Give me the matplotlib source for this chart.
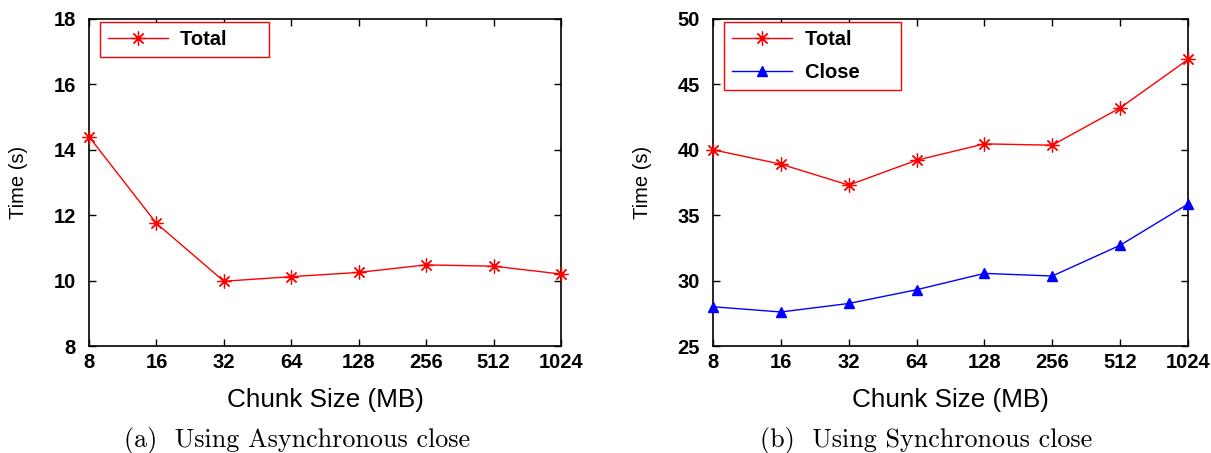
import matplotlib.pyplot as plt

chunk_labels = ["8", "16", "32", "64", "128", "256", "512", "1024"]

async_total = [14.4, 11.75, 9.98, 10.12, 10.25, 10.48, 10.44, 10.2]

sync_total = [40.0, 38.9, 37.3, 39.2, 40.45, 40.35, 43.2, 46.9]
sync_close = [28.0, 27.6, 28.25, 29.3, 30.55, 30.35, 32.7, 35.85]

plt.rcParams['font.family'] = ['Liberation Sans', 'DejaVu Sans']

fig = plt.figure(figsize=(12.11, 4.53), dpi=100)
ax1 = fig.add_axes([0.0735, 0.2362, 0.3898, 0.722])
ax2 = fig.add_axes([0.5888, 0.2362, 0.3922, 0.722])

x = list(range(len(chunk_labels)))
star = (8, 2, 0)


def style_axes(ax, ylim, yticks):
    ax.set_xlim(0, len(chunk_labels) - 1)
    ax.set_ylim(*ylim)
    ax.set_yticks(yticks)
    ax.set_xticks(x)
    ax.set_xticklabels(chunk_labels)
    ax.tick_params(direction='in', top=True, right=True, length=5, width=1,
                   labelsize=14.5)
    ax.tick_params(axis='x', pad=5)
    ax.tick_params(axis='y', pad=9.5)
    for lab in ax.get_xticklabels() + ax.get_yticklabels():
        lab.set_fontweight('bold')
    for sp in ax.spines.values():
        sp.set_linewidth(1.2)
    ax.set_xlabel("Chunk Size (MB)", fontsize=18.8)
    ax.xaxis.label.set_va('center')
    ax.xaxis.set_label_coords(0.5, -0.165)
    ax.set_ylabel("Time (s)", fontsize=14.5)
    ax.yaxis.label.set_va('center')
    ax.yaxis.set_label_coords(-71 / (ax.get_position().width * 1211), 0.5)


ax1.plot(x, async_total, color='red', lw=1, marker=star, ms=10, mew=0.9,
         label='Total      ', clip_on=False, zorder=3)
style_axes(ax1, (8, 18), [8, 10, 12, 14, 16, 18])

ax2.plot(x, sync_total, color='red', lw=1, marker=star, ms=10, mew=0.9,
         label='Total      ', clip_on=False, zorder=3)
ax2.plot(x, sync_close, color='blue', lw=1, marker='^', ms=7,
         label='Close      ', clip_on=False, zorder=3)
style_axes(ax2, (25, 50), [25, 30, 35, 40, 45, 50])

for ax in (ax1, ax2):
    leg = ax.legend(loc='upper left', bbox_to_anchor=(0.023, 0.99), fancybox=False,
                    edgecolor='red', framealpha=1, handlelength=3.0,
                    handletextpad=0.6, borderpad=0.4, borderaxespad=0,
                    labelspacing=0.7, prop={'weight': 'bold', 'size': 14.5})
    leg.get_frame().set_linewidth(1)

fig.text(297 / 1211, 1 - 440 / 453, "(a)  Using Asynchronous close", ha='center',
         va='center', family='cmr10', fontsize=18.8)
fig.text(926 / 1211, 1 - 440 / 453, "(b)  Using Synchronous close", ha='center',
         va='center', family='cmr10', fontsize=18.8)

fig.savefig("out.png", dpi=100)
